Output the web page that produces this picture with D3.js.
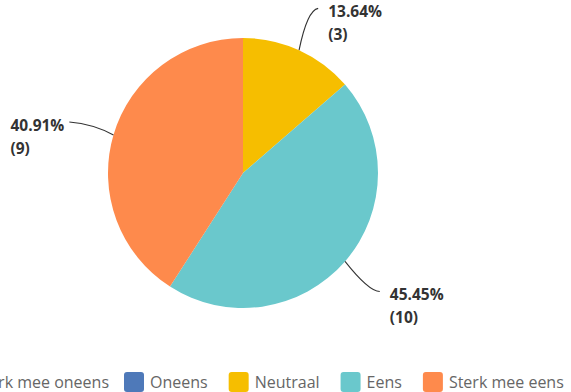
<!DOCTYPE html>
<html>
<head>
<meta charset="utf-8">
<script src="https://cdn.jsdelivr.net/npm/d3@7"></script>
<style>
  html, body { margin: 0; padding: 0; background: #fff; }
  svg { display: block; }
</style>
</head>
<body>
<svg id="chart" width="571" height="392"></svg>
<script>
const categories = ["Sterk mee oneens", "Oneens", "Neutraal", "Eens", "Sterk mee eens"];
const counts = [0, 0, 3, 10, 9];
const colors = ["#3b5fa0", "#4E79B9", "#F6BE00", "#6AC8CC", "#FE8A4C"];

const W = 571, H = 392;
const cx = 243, cy = 173, R = 135;
const svg = d3.select("#chart");

const total = d3.sum(counts);
const data = categories.map((c, i) => ({ cat: c, value: counts[i], color: colors[i] }));

const pie = d3.pie().sort(null).value(d => d.value);
const arcs = pie(data);
const arc = d3.arc().innerRadius(0).outerRadius(R);

const g = svg.append("g").attr("transform", `translate(${cx},${cy})`);
g.selectAll("path.slice")
  .data(arcs.filter(a => a.data.value > 0))
  .join("path")
  .attr("class", "slice")
  .attr("d", arc)
  .attr("fill", d => d.data.color);

// labels with curved leader lines
const pt = (ang, r) => [Math.sin(ang) * r, -Math.cos(ang) * r];
arcs.filter(a => a.data.value > 0).forEach(a => {
  const mid = (a.startAngle + a.endAngle) / 2;
  const right = Math.sin(mid) >= 0;
  const s = pt(mid, R);
  const e = pt(mid, 181);
  const c = [e[0] - (right ? 11 : -24), e[1] + (Math.cos(mid) > 0 ? 2 : 0)];
  const p = d3.path();
  p.moveTo(s[0], s[1]);
  p.quadraticCurveTo(c[0], c[1], e[0], e[1]);
  g.append("path").attr("d", p.toString())
    .attr("fill", "none").attr("stroke", "#333").attr("stroke-width", 1.1);
  const pct = (a.data.value / total * 100).toFixed(2) + "%";
  const t = g.append("text")
    .attr("y", e[1] + 8.5)
    .attr("font-family", "'Open Sans', sans-serif")
    .attr("font-weight", 700)
    .attr("font-size", 15.5)
    .attr("fill", "#333");
  const l1 = t.append("tspan").text(pct);
  const l2 = t.append("tspan").attr("dy", 23).text(`(${a.data.value})`);
  const w1 = l1.node().getComputedTextLength();
  const tx = right ? e[0] + 10 : e[0] - 5 - w1;
  l1.attr("x", tx);
  l2.attr("x", tx);
});

// legend
const legend = svg.append("g");
const sw = 20, gapText = 6, gapItem = 21;
const items = legend.selectAll("g.item").data(data).join("g").attr("class", "item");
items.append("rect")
  .attr("width", sw).attr("height", sw).attr("rx", 3).attr("ry", 3)
  .attr("y", 372)
  .attr("fill", d => d.color);
items.append("text")
  .attr("x", sw + gapText).attr("y", 388)
  .attr("font-family", "'Open Sans', sans-serif")
  .attr("font-size", 16)
  .attr("fill", "#666")
  .text(d => d.cat);
const widths = [];
items.each(function() { widths.push(sw + gapText + d3.select(this).select("text").node().getComputedTextLength()); });
// position so the second item's swatch sits at x=124; first item's text ends at x=109
let xs = [109 - widths[0]];
let x = 124;
widths.slice(1).forEach(w => { xs.push(x); x += w + gapItem; });
items.attr("transform", (d, i) => `translate(${xs[i]},0)`);
</script>
</body>
</html>
